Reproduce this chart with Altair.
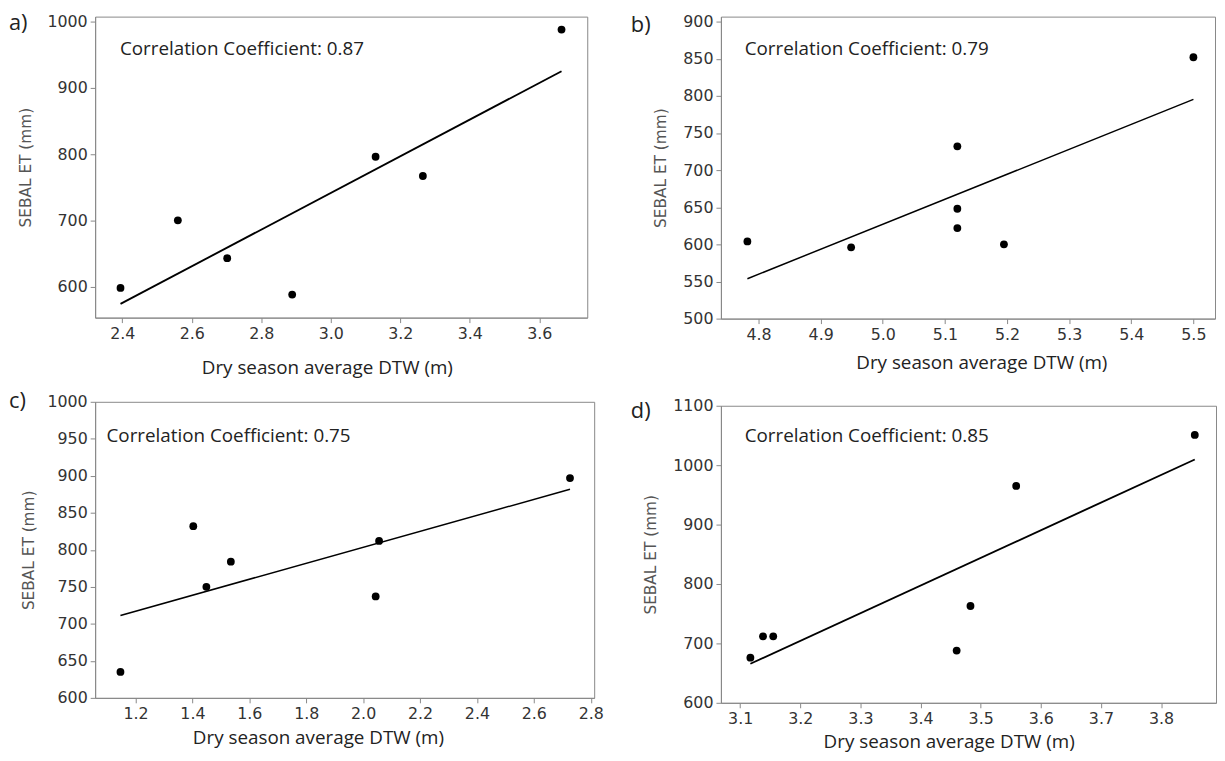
import altair as alt
import pandas as pd

# ---- data ----
a_x = [2.395, 2.560, 2.702, 2.889, 3.129, 3.265, 3.664]
a_y = [598, 700, 643, 588, 796, 767, 988]
b_x = [4.782, 4.949, 5.120, 5.120, 5.120, 5.195, 5.500]
b_y = [604, 596, 732, 648, 622, 600, 852]
c_x = [1.147, 1.403, 1.449, 1.535, 2.044, 2.056, 2.727]
c_y = [635, 832, 750, 784, 737, 812, 897]
d_x = [3.117, 3.138, 3.155, 3.460, 3.483, 3.559, 3.856]
d_y = [676, 712, 712, 688, 763, 965, 1051]

a_xticks = [2.4, 2.6, 2.8, 3.0, 3.2, 3.4, 3.6]
a_yticks = [600, 700, 800, 900, 1000]
b_xticks = [4.8, 4.9, 5.0, 5.1, 5.2, 5.3, 5.4, 5.5]
b_yticks = [500, 550, 600, 650, 700, 750, 800, 850, 900]
c_xticks = [1.2, 1.4, 1.6, 1.8, 2.0, 2.2, 2.4, 2.6, 2.8]
c_yticks = [600, 650, 700, 750, 800, 850, 900, 950, 1000]
d_xticks = [3.1, 3.2, 3.3, 3.4, 3.5, 3.6, 3.7, 3.8]
d_yticks = [600, 700, 800, 900, 1000, 1100]

corr_labels = ["Correlation Coefficient: 0.87", "Correlation Coefficient: 0.79",
               "Correlation Coefficient: 0.75", "Correlation Coefficient: 0.85"]
panel_labels = ["a)", "b)", "c)", "d)"]
x_title = "Dry season average DTW (m)"
y_title = "SEBAL ET (mm)"


def panel(xs, ys, xdom, ydom, xt, yt, w, h, corr, cx, cy, lab, lx, ly,
          ytx, xtx, xty, lw):
    df = pd.DataFrame({"x": xs, "y": ys})
    base = alt.Chart(df)
    xenc = alt.X("x:Q",
                 scale=alt.Scale(domain=xdom, nice=False, zero=False),
                 axis=alt.Axis(values=xt, format=".1f", title=x_title,
                               titleX=xtx, titleY=xty, titleAlign="center",
                               titleBaseline="middle", labelOverlap=False,
                               labelFlush=False))
    yenc = alt.Y("y:Q",
                 scale=alt.Scale(domain=ydom, nice=False, zero=False),
                 axis=alt.Axis(values=yt, format="d", title=y_title,
                               titleX=ytx, titleY=h / 2, titleAngle=270,
                               titleAlign="center", titleBaseline="middle",
                               labelOverlap=False, labelFlush=False))
    line = base.transform_regression("x", "y").mark_line(
        color="black", strokeWidth=lw).encode(x=xenc, y=yenc)
    pts = base.mark_circle(size=62, color="black", opacity=1).encode(
        x=xenc, y=yenc)
    txt = alt.Chart(pd.DataFrame({"t": [corr]})).mark_text(
        align="left", baseline="middle", font="Open Sans", fontSize=19,
        color="#222").encode(text="t:N", x=alt.value(cx), y=alt.value(cy))
    lbl = alt.Chart(pd.DataFrame({"t": [lab]})).mark_text(
        align="left", baseline="middle", font="Open Sans", fontSize=22,
        color="#222").encode(text="t:N", x=alt.value(lx), y=alt.value(ly))
    return alt.layer(line, pts, txt, lbl).properties(width=w, height=h)


# panel b/d views are top-aligned with a/c; b's domain extends a bit above 900
pa = panel(a_x, a_y, [2.322, 3.738], [553.2, 1007.5], a_xticks, a_yticks,
           497, 304, corr_labels[0], 25, 33, panel_labels[0], -87, 7,
           -70, 234, 50, 1.9)
pb = panel(b_x, b_y, [4.7394, 5.5348], [500, 906.7], b_xticks, b_yticks,
           499, 305, corr_labels[1], 24, 33, panel_labels[1], -91, 8.5,
           -61, 263, 44, 1.5)
pc = panel(c_x, c_y, [1.058, 2.812], [600, 1000], c_xticks, c_yticks,
           504, 299, corr_labels[2], 11.5, 35, panel_labels[2], -87, -0.5,
           -67, 225, 40, 1.5)
pd_ = panel(d_x, d_y, [3.068, 3.8913], [600, 1100], d_xticks, d_yticks,
            500, 300, corr_labels[3], 24, 31, panel_labels[3], -91, 5.5,
            -71, 230, 39, 1.9)

col1 = alt.vconcat(pa, pc, spacing=85, bounds="flush")
col2 = alt.vconcat(pb, pd_, spacing=88, bounds="flush")

chart = alt.hconcat(col1, col2, spacing=26).properties(
    padding={"top": 0, "left": 0, "right": 0, "bottom": 0}
).configure_view(
    stroke="#888", strokeWidth=1
).configure_axis(
    grid=False, labelFont="DejaVu Sans", labelFontSize=16, labelColor="#333",
    tickColor="#888", domainColor="#888", tickSize=5, labelPadding=3,
    titleFontWeight="normal"
).configure_axisX(
    titleFont="Open Sans", titleFontSize=19, titleColor="#222"
).configure_axisY(
    titleFont="DejaVu Sans", titleFontSize=15.5, titleColor="#555"
)

chart.save("out.html", embed_options={"renderer": "svg", "actions": False})
